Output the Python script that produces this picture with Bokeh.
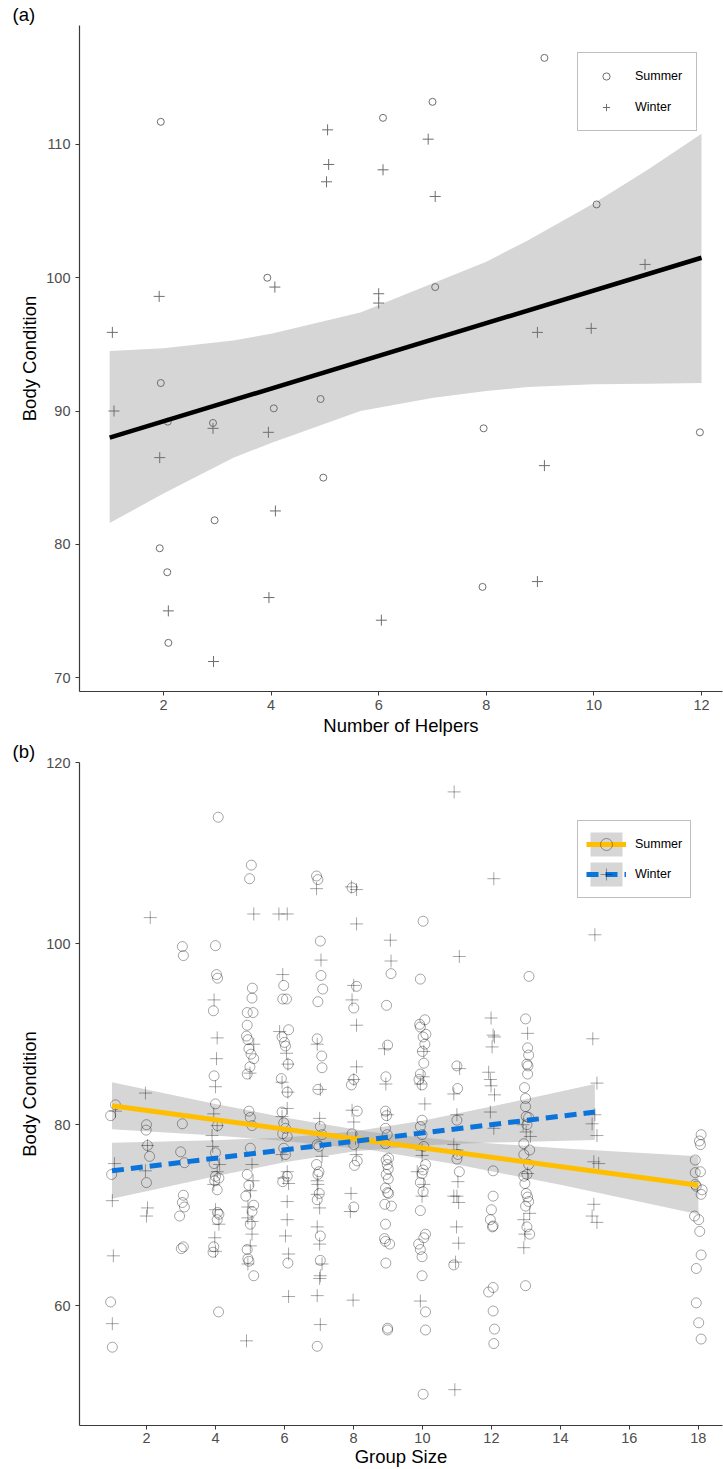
from bokeh.plotting import figure
from bokeh.layouts import column
from bokeh.models import Legend, LegendItem, Title, Range1d, FixedTicker
from bokeh.embed import file_html
from bokeh.resources import INLINE

FONT = "Liberation Sans"

# ---------------- Panel (a): Number of helpers ----------------
sum_a_x = [1.95, 3.93, 9.08, 7.0, 6.08, 10.05, 7.05, 1.95, 2.08, 2.92, 4.05, 4.92, 4.97, 2.95, 1.93, 2.07, 2.09, 7.95, 11.97, 7.93]
sum_a_y = [111.7, 100.0, 116.5, 113.2, 112.0, 105.5, 99.3, 92.1, 89.2, 89.1, 90.2, 90.9, 85.0, 81.8, 79.7, 77.9, 72.6, 88.7, 88.4, 76.8]
win_a_x = [1.05, 1.92, 4.07, 5.05, 5.07, 5.03, 6.92, 6.08, 7.05, 6.0, 6.0, 10.95, 8.95, 9.95, 1.08, 1.93, 2.92, 3.95, 4.08, 3.96, 2.09, 2.93, 6.05, 9.08, 8.95]
win_a_y = [95.9, 98.6, 99.3, 111.1, 108.5, 107.2, 110.4, 108.1, 106.1, 98.8, 98.1, 101.0, 95.9, 96.2, 90.0, 86.5, 88.7, 88.4, 82.5, 76.0, 75.0, 71.2, 74.3, 85.9, 77.2]

fit_a_x = [1, 12]
fit_a_y = [88.0, 101.5]
band_a_x = [1, 2, 3.3, 4, 5.66, 7.02, 8.0, 8.77, 10, 11, 12]
band_a_lo = [81.6, 83.8, 86.5, 87.6, 90.0, 91.0, 91.5, 91.8, 92.0, 92.05, 92.1]
band_a_hi = [94.5, 94.7, 95.3, 95.8, 97.4, 99.6, 101.2, 102.8, 105.6, 108.1, 110.8]

xticks_a = [2, 4, 6, 8, 10, 12]
yticks_a = [70, 80, 90, 100, 110]

# ---------------- Panel (b): Group size ----------------
sum_b_x = [0.96, 1.10, 0.99, 0.96, 1.01,
           2.0, 1.99, 2.03, 2.09, 2.0,
           3.04, 3.07, 3.04, 2.99, 3.1, 3.07, 3.04, 3.1, 2.96, 3.01, 3.07,
           4.08, 4.0, 4.03, 4.06, 3.94, 3.96, 4.0, 4.06, 4.0, 3.96, 4.0, 4.1, 3.98, 4.05, 4.06, 4.1, 4.05, 3.95, 3.93, 4.09,
           5.04, 4.99, 5.07, 5.06, 4.92, 5.09, 4.92, 4.9, 4.94, 4.97, 5.03, 5.11, 5.0, 4.92, 4.97, 5.01, 5.06, 5.01, 4.92, 4.97, 4.88, 5.11, 5.06, 5.01, 4.92, 4.94, 4.97, 5.11,
           5.98, 5.95, 6.06, 6.12, 5.93, 6.0, 6.03, 6.11, 5.91, 6.08, 5.93, 5.98, 6.03, 5.95, 6.08, 5.98, 6.03, 6.08, 5.95, 6.1,
           6.93, 6.97, 7.04, 7.06, 7.11, 6.97, 6.95, 7.08, 7.09, 6.97, 7.04, 7.09, 6.95, 7.0, 6.93, 7.0, 6.97, 7.01, 6.95, 7.04, 7.04, 6.95,
           7.96, 8.09, 8.01, 8.01, 7.94, 8.11, 7.96, 8.01, 8.11, 8.03, 8.01,
           9.09, 8.96, 8.99, 8.94, 8.93, 8.96, 8.93, 8.98, 8.93, 9.02, 8.95, 8.98, 9.01, 8.95, 9.01, 8.93, 8.99, 9.02, 8.91, 9.1, 8.93, 8.9, 8.93, 9.05, 8.94, 8.99, 8.99,
           10.02, 9.94, 10.07, 9.92, 9.94, 10.1, 10.02, 10.07, 10.0, 10.04, 9.94, 9.9, 9.99, 9.99, 9.94, 9.99, 10.04, 10.09, 10.02, 9.99, 9.94, 10.02, 9.94, 10.09, 10.04, 9.89, 9.94, 9.99, 9.99, 10.09, 10.09, 10.02,
           11.0, 11.02, 11.0, 11.03, 11.0, 11.07, 10.91,
           12.05, 12.05, 12.0, 11.97, 12.05, 12.03, 12.05, 11.92, 12.05, 12.09, 12.07,
           13.09, 12.99, 13.05, 13.08, 13.03, 13.06, 13.05, 12.96, 12.99, 12.99, 13.01, 13.08, 13.03, 12.94, 13.11, 12.94, 13.08, 13.03, 12.94, 12.97, 13.01, 13.05, 13.08, 12.99, 13.03, 13.11, 12.99,
           18.08, 18.03, 18.06, 17.91, 18.06, 17.91, 17.91, 17.94, 18.11, 18.08, 17.89, 18.01, 18.04, 18.08, 17.94, 17.94, 18.01, 18.08]
sum_b_y = [81.0, 82.2, 74.5, 60.4, 55.4,
           80.0, 79.4, 77.7, 76.5, 73.6,
           99.7, 98.7, 80.1, 77.0, 75.8, 72.2, 71.4, 70.9, 69.9, 66.3, 66.5,
           114.0, 99.8, 96.6, 96.2, 92.6, 85.4, 82.3, 79.9, 76.9, 75.7, 74.3, 74.1, 73.8, 72.8, 70.3, 70.1, 69.5, 66.5, 65.9, 59.3,
           108.7, 107.2, 95.1, 94.0, 92.4, 92.4, 91.0, 89.8, 89.4, 88.4, 87.8, 87.3, 86.4, 85.6, 81.5, 80.8, 79.9, 77.4, 74.5, 73.3, 72.1, 71.1, 70.4, 69.0, 66.2, 65.2, 64.9, 63.3,
           95.4, 93.9, 93.9, 90.5, 89.7, 89.1, 88.7, 86.7, 85.1, 83.6, 81.4, 80.2, 79.6, 79.0, 78.7, 77.4, 76.7, 74.3, 73.7, 64.7,
           107.5, 107.1, 100.3, 96.5, 95.0, 93.6, 89.5, 87.6, 86.3, 83.9, 79.8, 78.9, 77.8, 77.6, 75.6, 74.8, 74.5, 72.4, 71.7, 67.7, 65.0, 55.5,
           106.2, 95.3, 92.9, 85.0, 84.4, 81.5, 79.0, 77.8, 76.0, 75.5, 70.9,
           96.7, 93.2, 88.8, 85.3, 81.5, 81.0, 79.6, 78.9, 77.9, 76.3, 76.1, 75.6, 75.1, 74.5, 74.0, 73.0, 72.5, 72.4, 71.2, 71.0, 69.0, 67.4, 67.1, 66.8, 64.7, 57.5, 57.3,
           102.5, 96.1, 91.6, 91.1, 90.8, 90.0, 89.7, 88.9, 88.1, 86.8, 85.6, 85.0, 84.4, 80.5, 79.8, 78.9, 77.6, 75.6, 75.0, 74.6, 73.6, 72.6, 70.5, 67.9, 67.5, 66.8, 66.2, 65.4, 63.3, 59.3, 57.3, 50.2,
           86.5, 84.0, 80.5, 76.7, 76.2, 74.8, 64.5,
           74.9, 72.1, 70.6, 69.5, 68.8, 68.7, 62.0, 61.5, 59.4, 57.4, 55.8,
           96.4, 91.7, 88.5, 87.7, 86.7, 86.5, 85.6, 84.1, 82.9, 82.0, 80.9, 80.8, 80.0, 77.9, 77.2, 76.7, 75.6, 74.5, 74.3, 73.5, 72.4, 72.0, 71.5, 71.0, 68.7, 67.9, 62.2,
           78.9, 78.2, 77.8, 76.1, 74.8, 74.7, 73.4, 73.2, 72.8, 72.3, 69.9, 69.5, 68.2, 65.6, 64.1, 60.3, 58.1, 56.3]

win_b_x = [1.10, 1.07, 1.01, 1.04, 1.01,
           2.11, 1.97, 2.03, 1.97, 2.03, 2.0,
           3.96, 4.05, 4.03, 4.0, 3.95, 4.05, 3.9, 3.92, 4.12, 4.05, 3.95, 4.0, 4.1, 3.98, 4.0,
           5.11, 5.11, 5.0, 5.06, 5.09, 5.01, 4.94, 4.94, 5.06, 5.06, 5.01, 4.94, 4.9,
           5.84, 6.08, 5.95, 5.86, 6.06, 6.1, 5.93, 6.1, 6.08, 5.93, 5.93, 6.08, 5.98, 6.12, 6.08, 6.08, 6.03, 6.12, 6.12,
           6.93, 7.06, 6.95, 7.04, 7.02, 7.09, 6.95, 6.97, 6.95, 7.02, 6.95, 7.02, 7.09, 7.04, 7.02, 6.95, 7.04,
           7.94, 8.09, 8.09, 8.01, 7.96, 8.09, 8.09, 8.01, 7.96, 8.01, 8.06, 8.08, 7.93, 7.91, 7.99,
           9.07, 9.09, 8.9, 8.94, 8.99,
           10.04, 10.02, 9.94, 10.07, 9.99, 9.99, 9.85, 10.04, 9.99, 9.94,
           10.92, 11.07, 11.08, 10.91, 11.0, 10.91, 11.0, 11.03, 10.91, 11.0, 11.05, 10.99, 11.05, 10.96, 10.94,
           12.07, 11.99, 12.05, 12.09, 12.02, 11.92, 11.97, 11.99, 12.09, 11.97, 12.07,
           13.05, 12.92, 13.01, 13.13, 13.05, 13.11, 12.94, 12.97, 12.94,
           15.0, 14.94, 15.06, 15.0, 14.92, 15.06, 14.97, 15.11, 14.97, 14.92, 15.06]
win_b_y = [81.5, 75.7, 71.6, 65.5, 58.0,
           102.9, 83.5, 77.7, 74.9, 70.8, 69.9,
           93.8, 89.6, 87.3, 84.2, 81.2, 79.9, 78.8, 77.6, 75.6, 74.8, 73.4, 70.6, 69.0, 67.5, 66.0,
           103.3, 88.9, 85.7, 75.6, 73.8, 72.7, 70.9, 69.7, 69.3, 67.9, 66.6, 64.6, 56.1,
           103.3, 103.3, 96.6, 90.3, 87.9, 86.7, 84.7, 83.6, 81.8, 80.9, 76.7, 74.8, 74.1, 73.5, 71.5, 69.5, 67.7, 65.7, 61.0,
           106.1, 98.2, 88.9, 83.9, 80.7, 76.5, 73.8, 73.4, 72.3, 70.8, 68.7, 66.8, 64.6, 63.3, 63.0, 61.1, 57.9,
           106.3, 106.0, 102.2, 95.4, 93.8, 91.0, 86.4, 85.0, 81.6, 80.3, 78.5, 76.7, 72.4, 70.4, 60.6,
           100.4, 98.1, 88.4, 84.5, 81.1,
           88.1, 85.3, 84.5, 82.3, 77.2, 76.6, 74.8, 73.4, 72.1, 60.5,
           116.8, 98.6, 86.2, 83.4, 81.1, 77.8, 77.2, 73.7, 72.1, 72.1, 71.4, 68.7, 66.9, 64.8, 50.7,
           107.2, 91.8, 89.9, 89.7, 88.6, 85.8, 85.0, 84.3, 83.3, 81.4, 79.6,
           90.1, 80.0, 79.2, 78.7, 74.6, 70.2, 69.5, 67.9, 66.4,
           101.0, 89.5, 84.6, 81.1, 80.1, 78.8, 75.9, 75.7, 71.2, 69.9, 69.2]

fit_sum_x = [1, 18]
fit_sum_y = [82.1, 73.3]
band_sum_x = [1, 4, 6, 8.5, 11, 14, 18]
band_sum_lo = [79.5, 78.8, 78.2, 77.2, 75.6, 73.35, 70.1]
band_sum_hi = [84.7, 82.3, 80.8, 79.2, 78.2, 77.4, 76.5]

fit_win_x = [1, 15]
fit_win_y = [74.9, 81.4]
band_win_x = [1, 4, 6, 8, 10, 12, 15]
band_win_lo = [71.8, 74.3, 75.85, 77.05, 77.71, 78.02, 78.3]
band_win_hi = [78.0, 78.28, 78.59, 79.25, 80.45, 82.0, 84.5]

xticks_b = [2, 4, 6, 8, 10, 12, 14, 16, 18]
yticks_b = [60, 80, 100, 120]

AX = "#4D4D4D"


def style(p, xticks, yticks, xlabel, ylabel, lab_standoff, ax_standoff):
    p.xgrid.visible = False
    p.ygrid.visible = False
    p.outline_line_color = None
    p.background_fill_color = "white"
    p.border_fill_color = "white"
    p.xaxis.ticker = FixedTicker(ticks=xticks)
    p.yaxis.ticker = FixedTicker(ticks=yticks)
    p.xaxis.axis_label = xlabel
    p.yaxis.axis_label = ylabel
    for ax in (p.xaxis[0], p.yaxis[0]):
        ax.axis_line_color = "#3A3A3A"
        ax.axis_line_width = 1.2
        ax.major_tick_line_color = "#3A3A3A"
        ax.major_tick_line_width = 1
        ax.minor_tick_line_color = None
        ax.major_tick_in = 0
        ax.major_tick_out = 4
        ax.major_label_text_font = FONT
        ax.major_label_text_font_size = "14.5px"
        ax.major_label_text_color = AX
        ax.axis_label_text_font = FONT
        ax.axis_label_text_font_size = "18.5px"
        ax.axis_label_text_font_style = "normal"
        ax.axis_label_text_color = "black"
    p.xaxis[0].major_label_standoff = lab_standoff
    p.xaxis[0].axis_label_standoff = ax_standoff
    p.yaxis[0].major_label_standoff = 5
    p.yaxis[0].axis_label_standoff = 3


def panel_title(p, text):
    p.add_layout(Title(text=text, align="left", offset=-67, standoff=1,
                       text_font=FONT, text_font_size="18.5px",
                       text_font_style="normal", text_color="black"), "above")


# ---------- figure (a) ----------
pa = figure(width=723, height=738, output_backend="svg", toolbar_location=None,
            x_range=Range1d(0.439, 12.39), y_range=Range1d(68.95, 118.93),
            min_border_left=79, min_border_right=1, min_border_top=25, min_border_bottom=47)
style(pa, xticks_a, yticks_a, "Number of Helpers", "Body Condition", 4, 2)
panel_title(pa, "(a)")

pa.varea(x=band_a_x, y1=band_a_lo, y2=band_a_hi, fill_color="#999999", fill_alpha=0.4)
ra_s = pa.scatter(sum_a_x, sum_a_y, marker="circle", size=7, fill_color=None,
                  line_color="#6E6E6E", line_width=1)
ra_w = pa.scatter(win_a_x, win_a_y, marker="cross", size=11,
                  line_color="#6E6E6E", line_width=1)
pa.line(fit_a_x, fit_a_y, line_color="black", line_width=4.5)

leg_a = Legend(items=[LegendItem(label="Summer", renderers=[ra_s]),
                      LegendItem(label="Winter", renderers=[ra_w])],
               location=(498, 560), orientation="vertical",
               glyph_width=28, glyph_height=18, spacing=13, padding=14,
               label_standoff=15, margin=0, label_height=18,
               border_line_color="#7F7F7F", border_line_width=1,
               background_fill_color="white", background_fill_alpha=1,
               label_text_font=FONT, label_text_font_size="12.5px",
               label_text_color="black")
pa.add_layout(leg_a)

# ---------- figure (b) ----------
pb = figure(width=723, height=731, output_backend="svg", toolbar_location=None,
            x_range=Range1d(0.058, 18.70), y_range=Range1d(46.74, 120.05),
            min_border_left=79, min_border_right=1, min_border_top=22, min_border_bottom=44)
style(pb, xticks_b, yticks_b, "Group Size", "Body Condition", 3, 0)
panel_title(pb, "(b)")

bs = pb.varea(x=band_sum_x, y1=band_sum_lo, y2=band_sum_hi, fill_color="#999999", fill_alpha=0.4)
bw = pb.varea(x=band_win_x, y1=band_win_lo, y2=band_win_hi, fill_color="#999999", fill_alpha=0.4)
ps = pb.scatter(sum_b_x, sum_b_y, marker="circle", size=10, fill_color=None,
                line_color="black", line_alpha=0.35, line_width=1)
pw = pb.scatter(win_b_x, win_b_y, marker="cross", size=13,
                line_color="black", line_alpha=0.35, line_width=1)
ls = pb.line(fit_sum_x, fit_sum_y, line_color="#FFBF00", line_width=5)
lw = pb.line(fit_win_x, fit_win_y, line_color="#0A74DA", line_width=5, line_dash="12 7")

leg_b = Legend(items=[LegendItem(label="Summer", renderers=[bs, ls, ps]),
                      LegendItem(label="Winter", renderers=[bw, lw, pw])],
               location=(498, 527), orientation="vertical",
               glyph_width=40, glyph_height=30, spacing=0, padding=8,
               label_standoff=9, margin=0, label_height=30,
               border_line_color="#7F7F7F", border_line_width=1,
               background_fill_color="white", background_fill_alpha=1,
               label_text_font=FONT, label_text_font_size="12.5px",
               label_text_color="black")
pb.add_layout(leg_b)

layout = column(pa, pb, spacing=0)
open("out.html", "w").write(file_html(layout, INLINE))
